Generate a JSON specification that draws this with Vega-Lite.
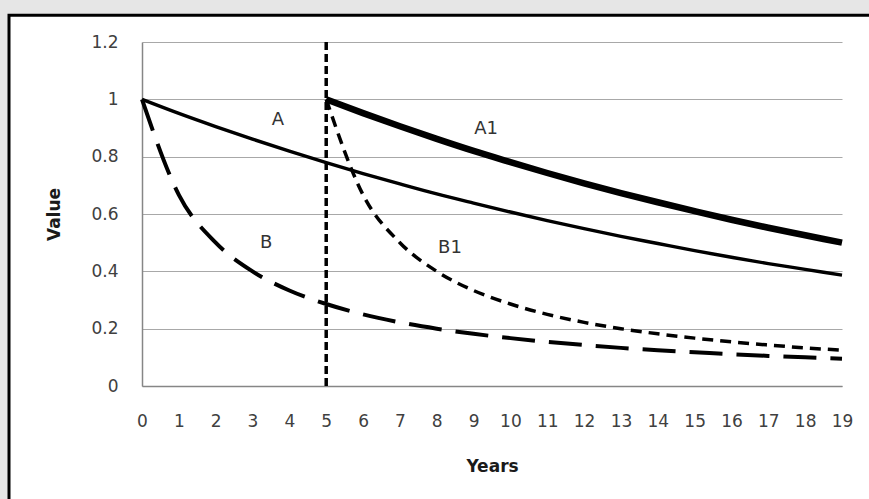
{
  "$schema": "https://vega.github.io/schema/vega-lite/v6.json",
  "width": 700,
  "height": 344,
  "autosize": {"type": "none"},
  "padding": {"left": 142, "top": 42, "right": 27, "bottom": 113},
  "datasets": {
    "curves": [
      {"year": 0, "value": 1.0, "series": "A"},
      {"year": 1, "value": 0.951, "series": "A"},
      {"year": 2, "value": 0.905, "series": "A"},
      {"year": 3, "value": 0.861, "series": "A"},
      {"year": 4, "value": 0.819, "series": "A"},
      {"year": 5, "value": 0.779, "series": "A"},
      {"year": 6, "value": 0.741, "series": "A"},
      {"year": 7, "value": 0.705, "series": "A"},
      {"year": 8, "value": 0.670, "series": "A"},
      {"year": 9, "value": 0.638, "series": "A"},
      {"year": 10, "value": 0.607, "series": "A"},
      {"year": 11, "value": 0.577, "series": "A"},
      {"year": 12, "value": 0.549, "series": "A"},
      {"year": 13, "value": 0.522, "series": "A"},
      {"year": 14, "value": 0.497, "series": "A"},
      {"year": 15, "value": 0.472, "series": "A"},
      {"year": 16, "value": 0.449, "series": "A"},
      {"year": 17, "value": 0.427, "series": "A"},
      {"year": 18, "value": 0.407, "series": "A"},
      {"year": 19, "value": 0.387, "series": "A"},
      {"year": 5, "value": 1.0, "series": "A1"},
      {"year": 6, "value": 0.952, "series": "A1"},
      {"year": 7, "value": 0.906, "series": "A1"},
      {"year": 8, "value": 0.862, "series": "A1"},
      {"year": 9, "value": 0.820, "series": "A1"},
      {"year": 10, "value": 0.781, "series": "A1"},
      {"year": 11, "value": 0.743, "series": "A1"},
      {"year": 12, "value": 0.707, "series": "A1"},
      {"year": 13, "value": 0.673, "series": "A1"},
      {"year": 14, "value": 0.641, "series": "A1"},
      {"year": 15, "value": 0.610, "series": "A1"},
      {"year": 16, "value": 0.580, "series": "A1"},
      {"year": 17, "value": 0.552, "series": "A1"},
      {"year": 18, "value": 0.526, "series": "A1"},
      {"year": 19, "value": 0.500, "series": "A1"},
      {"year": 0, "value": 1.0, "series": "B"},
      {"year": 1, "value": 0.667, "series": "B"},
      {"year": 2, "value": 0.5, "series": "B"},
      {"year": 3, "value": 0.4, "series": "B"},
      {"year": 4, "value": 0.333, "series": "B"},
      {"year": 5, "value": 0.286, "series": "B"},
      {"year": 6, "value": 0.25, "series": "B"},
      {"year": 7, "value": 0.222, "series": "B"},
      {"year": 8, "value": 0.2, "series": "B"},
      {"year": 9, "value": 0.182, "series": "B"},
      {"year": 10, "value": 0.167, "series": "B"},
      {"year": 11, "value": 0.154, "series": "B"},
      {"year": 12, "value": 0.143, "series": "B"},
      {"year": 13, "value": 0.133, "series": "B"},
      {"year": 14, "value": 0.125, "series": "B"},
      {"year": 15, "value": 0.118, "series": "B"},
      {"year": 16, "value": 0.111, "series": "B"},
      {"year": 17, "value": 0.105, "series": "B"},
      {"year": 18, "value": 0.1, "series": "B"},
      {"year": 19, "value": 0.095, "series": "B"},
      {"year": 5, "value": 1.0, "series": "B1"},
      {"year": 6, "value": 0.667, "series": "B1"},
      {"year": 7, "value": 0.5, "series": "B1"},
      {"year": 8, "value": 0.4, "series": "B1"},
      {"year": 9, "value": 0.333, "series": "B1"},
      {"year": 10, "value": 0.286, "series": "B1"},
      {"year": 11, "value": 0.25, "series": "B1"},
      {"year": 12, "value": 0.222, "series": "B1"},
      {"year": 13, "value": 0.2, "series": "B1"},
      {"year": 14, "value": 0.182, "series": "B1"},
      {"year": 15, "value": 0.167, "series": "B1"},
      {"year": 16, "value": 0.154, "series": "B1"},
      {"year": 17, "value": 0.143, "series": "B1"},
      {"year": 18, "value": 0.133, "series": "B1"},
      {"year": 19, "value": 0.125, "series": "B1"}
    ],
    "labels": [
      {"year": 3.69, "value": 0.927, "label": "A"},
      {"year": 9.34, "value": 0.896, "label": "A1"},
      {"year": 3.37, "value": 0.5, "label": "B"},
      {"year": 8.36, "value": 0.483, "label": "B1"}
    ]
  },
  "layer": [
    {
      "data": {"values": [{"part": "margin"}]},
      "mark": {"type": "rect", "filled": false, "stroke": "#e6e6e6", "strokeWidth": 30, "clip": false},
      "encoding": {
        "x": {
          "datum": -4.02, "title": "Years",
          "scale": {"domain": [0, 19]},
          "axis": {"values": [0, 1, 2, 3, 4, 5, 6, 7, 8, 9, 10, 11, 12, 13, 14, 15, 16, 17, 18, 19], "tickCount": 20}
        },
        "x2": {"datum": 30},
        "y": {
          "datum": 1.347, "title": "Value",
          "scale": {"domain": [0, 1.2]},
          "axis": {"values": [0, 0.2, 0.4, 0.6, 0.8, 1, 1.2], "tickCount": 7, "format": "~g"}
        },
        "y2": {"datum": -1}
      }
    },
    {
      "data": {"values": [{"part": "border"}]},
      "mark": {"type": "rect", "filled": false, "stroke": "#000000", "strokeWidth": 3, "clip": false},
      "encoding": {
        "x": {"datum": -3.61, "scale": {"domain": [0, 19]}, "title": "Years"},
        "x2": {"datum": 30},
        "y": {"datum": 1.293, "scale": {"domain": [0, 1.2]}, "title": "Value"},
        "y2": {"datum": -1}
      }
    },
    {
      "data": {"name": "curves"},
      "transform": [{"filter": "datum.series == 'A'"}],
      "mark": {"type": "line", "interpolate": "monotone", "color": "#000000", "strokeWidth": 3.4},
      "encoding": {
        "x": {"field": "year", "type": "quantitative", "title": "Years", "scale": {"domain": [0, 19]}},
        "y": {"field": "value", "type": "quantitative", "title": "Value", "scale": {"domain": [0, 1.2]}}
      }
    },
    {
      "data": {"name": "curves"},
      "transform": [{"filter": "datum.series == 'A1'"}],
      "mark": {"type": "line", "interpolate": "monotone", "color": "#000000", "strokeWidth": 6.5},
      "encoding": {
        "x": {"field": "year", "type": "quantitative", "title": "Years", "scale": {"domain": [0, 19]}},
        "y": {"field": "value", "type": "quantitative", "title": "Value", "scale": {"domain": [0, 1.2]}}
      }
    },
    {
      "data": {"name": "curves"},
      "transform": [{"filter": "datum.series == 'B'"}],
      "mark": {"type": "line", "interpolate": "monotone", "color": "#000000", "strokeWidth": 4, "strokeDash": [33, 14]},
      "encoding": {
        "x": {"field": "year", "type": "quantitative", "title": "Years", "scale": {"domain": [0, 19]}},
        "y": {"field": "value", "type": "quantitative", "title": "Value", "scale": {"domain": [0, 1.2]}}
      }
    },
    {
      "data": {"name": "curves"},
      "transform": [{"filter": "datum.series == 'B1'"}],
      "mark": {"type": "line", "interpolate": "monotone", "color": "#000000", "strokeWidth": 3.5, "strokeDash": [11, 7]},
      "encoding": {
        "x": {"field": "year", "type": "quantitative", "title": "Years", "scale": {"domain": [0, 19]}},
        "y": {"field": "value", "type": "quantitative", "title": "Value", "scale": {"domain": [0, 1.2]}}
      }
    },
    {
      "data": {"values": [{"year": 5}]},
      "mark": {"type": "rule", "color": "#000000", "strokeWidth": 3.5, "strokeDash": [8, 4]},
      "encoding": {
        "x": {"field": "year", "type": "quantitative", "title": "Years", "scale": {"domain": [0, 19]}}
      }
    },
    {
      "data": {"name": "labels"},
      "mark": {"type": "text", "font": "DejaVu Sans", "fontSize": 18, "color": "#333333", "align": "center", "baseline": "middle"},
      "encoding": {
        "x": {"field": "year", "type": "quantitative", "title": "Years", "scale": {"domain": [0, 19]}},
        "y": {"field": "value", "type": "quantitative", "title": "Value", "scale": {"domain": [0, 1.2]}},
        "text": {"field": "label"}
      }
    }
  ],
  "config": {
    "background": "white",
    "view": {"stroke": null},
    "axis": {
      "labelFont": "DejaVu Sans",
      "labelFontSize": 17,
      "labelColor": "#404040",
      "labelOverlap": false,
      "labelFlush": false,
      "titleFont": "DejaVu Sans",
      "titleFontSize": 17,
      "titleFontWeight": "bold",
      "titleColor": "#1a1a1a",
      "ticks": false,
      "domainColor": "#868686",
      "domainWidth": 1.5,
      "gridColor": "#a8a8a8",
      "gridWidth": 1
    },
    "axisX": {
      "grid": false,
      "labelPadding": 27,
      "titlePadding": 29
    },
    "axisY": {
      "grid": true,
      "labelPadding": 24,
      "titlePadding": 27
    }
  }
}
